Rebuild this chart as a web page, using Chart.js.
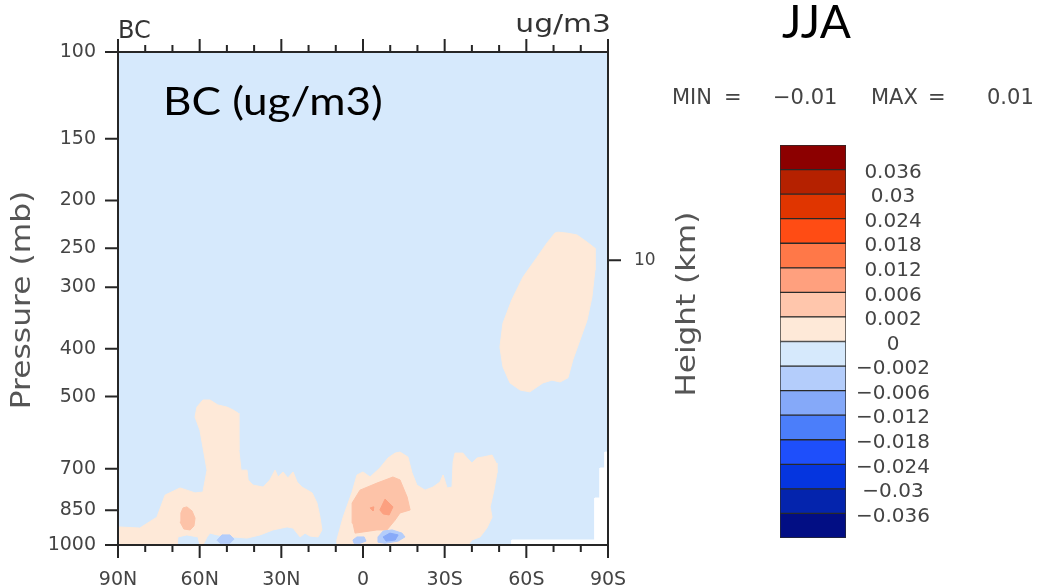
<!DOCTYPE html>
<html>
<head>
<meta charset="utf-8">
<script src="https://cdn.jsdelivr.net/npm/chart.js@4.4.0/dist/chart.umd.min.js"></script>
<style>
  html, body { margin: 0; padding: 0; background: #fff; }
  #wrap { position: relative; width: 1042px; height: 588px; }
  #main { position: absolute; left: 0; top: 0; }
  #bar { position: absolute; left: 760px; top: 120px; }
</style>
</head>
<body>
<div id="wrap">
  <canvas id="main" width="1042" height="588"></canvas>
  <canvas id="bar" width="200" height="440"></canvas>
</div>
<script>
// axes
const pressureTicks = [100, 150, 200, 250, 300, 400, 500, 700, 850, 1000];
const latTicks = [90, 60, 30, 0, -30, -60, -90];
const heightTickP = 264.4; // 10 km, standard atmosphere
const heightTickLabel = '10';

// colour levels, bottom to top of the colour bar
const levelLabels = ['\u22120.036', '\u22120.03', '\u22120.024', '\u22120.018', '\u22120.012', '\u22120.006', '\u22120.002',
  '0', '0.002', '0.006', '0.012', '0.018', '0.024', '0.03', '0.036'];
const levelColors = ['#020e84', '#0424ad', '#0535df', '#1e4ffb', '#4b7efa', '#85a9f9', '#b4cdfb',
  '#d6e9fc', '#fee9d8', '#ffc6ac', '#ffa07e', '#ff7848', '#ff4c14', '#e03500', '#b52100', '#8c0000'];

// contour regions as [latitude (N > 0), pressure mb]
const peachNorth = [[90,919],[82,924],[75.7,878],[72.7,792],[67.2,766],[64.7,774],[61.7,784],[58.8,781],[57.3,705],
  [59.9,585],[61.7,550],[61.0,525],[58.8,508],[56.2,508],[53.3,520],[50.0,525],[47.8,532],[45.9,540],[45.6,642],
  [44.8,705],[42.6,705],[42.2,738],[40.4,756],[36.7,763],[34.2,738],[32.3,705],[31.2,728],[29.4,711],[27.6,731],
  [25.7,711],[24.2,745],[22.4,763],[18.7,784],[16.9,822],[15.8,878],[15.1,932],[16.5,963],[19.5,959],[21.3,946],
  [23.1,963],[25.7,924],[27.9,919],[33.1,932],[37.8,954],[42.6,968],[47.8,963],[53.6,954],[56.2,946],[57.3,963],
  [58.8,1000],[59.9,1000],[60.6,963],[64.7,954],[68.0,963],[68.3,1000],[90,1000]];
const peachTropics = [[9.6,1000],[9.6,977],[7.3,878],[4.0,781],[2.2,721],[0.0,711],[-2.6,728],[-6.2,698],[-9.2,666],
  [-11.8,651],[-13.6,648],[-16.5,663],[-18.0,714],[-19.8,756],[-22.8,774],[-25.7,763],[-28.3,745],[-29.4,721],
  [-30.9,766],[-32.7,763],[-33.1,679],[-33.8,651],[-36.7,651],[-38.2,666],[-40.0,682],[-41.9,666],[-44.1,663],
  [-47.4,657],[-48.9,682],[-49.2,714],[-48.1,774],[-46.7,837],[-47.4,878],[-45.5,924],[-43.0,963],[-40.0,977],[-38.6,1000]];
const peachSouth = [[-71.6,232],[-74.9,233],[-78.6,235],[-82.3,243],[-85.2,250],[-85.2,277],[-84.1,314],[-82.3,350],
  [-79.7,384],[-77.1,421],[-75.3,458],[-72.4,467],[-69.4,463],[-66.1,469],[-61.3,489],[-57.7,485],[-54.0,469],
  [-51.4,435],[-50.3,397],[-51.4,355],[-54.7,318],[-58.8,286],[-63.9,261],[-67.6,244],[-70.5,233]];
const salmonNorth = [[64.7,837],[62.8,853],[61.7,882],[62.1,915],[63.5,932],[65.8,928],[67.2,898],[66.9,861],[66.1,841]];
const salmonTropics = [[3.7,903],[4.0,822],[1.1,774],[-5.1,749],[-11.0,728],[-13.6,738],[-16.2,799],[-17.3,849],
  [-13.6,861],[-11.8,890],[-8.8,932],[-5.1,932],[0.0,941],[2.9,946]];
const orangeTropics = [[-6.2,849],[-8.1,807],[-11.0,837],[-9.6,869],[-7.4,865]];
const orangeDot = [[-2.6,841],[-4.0,837],[-3.7,853]];
const blueNorth = [[53.6,978],[51.8,954],[48.9,954],[47.4,973],[48.9,992],[52.5,992]];
const blueEquator = [[3.7,977],[2.2,963],[-0.4,963],[-1.1,982],[1.1,992],[3.3,992]];
const blueSouth = [[-5.5,963],[-7.4,937],[-10.7,932],[-14.3,946],[-15.4,963],[-12.9,982],[-8.1,992],[-5.5,987]];
const blueSouthCore = [[-7.4,963],[-9.9,946],[-12.9,954],[-11.8,977],[-8.5,982]];
const missing = [[-90,648],[-88.9,648],[-88.9,698],[-87.1,698],[-87.1,803],[-85.2,803],[-85.2,977],[-54.7,977],
  [-54.7,1000],[-90,1000]];

const plotBg = '#d6e9fc';
const nclFont = '"DejaVu Sans", sans-serif';

function region(points, color, order) {
  const data = points.map(p => ({ x: p[0], y: p[1] }));
  data.push({ x: points[0][0], y: points[0][1] });
  return {
    data: data,
    order: order,
    showLine: true,
    fill: 'shape',
    backgroundColor: color,
    borderColor: color,
    borderWidth: 1,
    pointRadius: 0,
    yAxisID: 'y'
  };
}

function text(ctx, str, x, y, font, color, align, sx) {
  ctx.save();
  ctx.font = font;
  ctx.fillStyle = color;
  ctx.textAlign = align || 'left';
  ctx.textBaseline = 'alphabetic';
  ctx.translate(x, y);
  ctx.scale(sx || 1, 1);
  ctx.fillText(str, 0, 0);
  ctx.restore();
}

const nclFrame = {
  id: 'nclFrame',
  beforeDraw(chart) {
    const { ctx, chartArea: a } = chart;
    ctx.save();
    ctx.fillStyle = plotBg;
    ctx.fillRect(a.left, a.top, a.right - a.left, a.bottom - a.top);
    ctx.restore();
  },
  afterDraw(chart) {
    const { ctx, chartArea: a, scales } = chart;
    ctx.save();
    ctx.strokeStyle = '#262626';
    ctx.lineWidth = 2;
    ctx.strokeRect(a.left, a.top, a.right - a.left, a.bottom - a.top);
    ctx.beginPath();
    for (let lat = -90; lat <= 90; lat += 10) {
      const px = scales.x.getPixelForValue(lat);
      const len = lat % 30 === 0 ? 13 : 7;
      ctx.moveTo(px, a.bottom);
      ctx.lineTo(px, a.bottom + len);
      ctx.moveTo(px, a.top);
      ctx.lineTo(px, a.top - len);
    }
    pressureTicks.forEach(p => {
      const py = scales.y.getPixelForValue(p);
      ctx.moveTo(a.left - 13, py);
      ctx.lineTo(a.left, py);
    });
    const hy = scales.y2.getPixelForValue(heightTickP);
    ctx.moveTo(a.right, hy);
    ctx.lineTo(a.right + 13, hy);
    ctx.stroke();
    ctx.restore();

    // NCL labels
    text(ctx, 'BC', a.left, 38, '24px ' + nclFont, '#333');
    text(ctx, 'ug/m3', a.right + 3, 32, '24px ' + nclFont, '#333', 'right', 1.24);
    text(ctx, 'MIN', 672, 104, '21px ' + nclFont, '#444');
    text(ctx, '=', 724, 104, '21px ' + nclFont, '#444');
    text(ctx, '\u22120.01', 773, 104, '21px ' + nclFont, '#444');
    text(ctx, 'MAX', 871, 104, '21px ' + nclFont, '#444');
    text(ctx, '=', 928, 104, '21px ' + nclFont, '#444');
    text(ctx, '0.01', 987, 104, '21px ' + nclFont, '#444');

    ctx.save();
    ctx.translate(695, 304);
    ctx.rotate(-Math.PI / 2);
    text(ctx, 'Height (km)', 0, 0, '27px ' + nclFont, '#555', 'center', 1.15);
    ctx.restore();
    ctx.save();
    ctx.translate(30, 300);
    ctx.rotate(-Math.PI / 2);
    text(ctx, 'Pressure (mb)', 0, 0, '27px ' + nclFont, '#555', 'center', 1.16);
    ctx.restore();

    // slide annotations
    text(ctx, 'JJA', 782, 38, '46px Lato, "Open Sans", sans-serif', '#000');
    text(ctx, 'BC (ug/m3)', 163, 115, '38px Lato, "Open Sans", sans-serif', '#000', 'left', 1.16);
  }
};

const tickFont = { family: nclFont, size: 19 };

new Chart(document.getElementById('main'), {
  type: 'line',
  data: {
    datasets: [
      region(blueSouthCore, '#88aaf9', 1),
      region(blueSouth, '#b4cdfb', 2),
      region(blueEquator, '#b4cdfb', 2),
      region(blueNorth, '#b4cdfb', 2),
      region(orangeDot, '#fca080', 3),
      region(orangeTropics, '#fca080', 3),
      region(salmonTropics, '#fdc3a8', 4),
      region(salmonNorth, '#fdc3a8', 4),
      region(missing, '#ffffff', 5),
      region(peachSouth, '#fee9d8', 6),
      region(peachTropics, '#fee9d8', 6),
      region(peachNorth, '#fee9d8', 6)
    ]
  },
  options: {
    responsive: false,
    devicePixelRatio: 1,
    animation: false,
    layout: { padding: { top: 52, right: 374, bottom: 0, left: 0 } },
    plugins: { legend: { display: false }, tooltip: { enabled: false } },
    scales: {
      x: {
        type: 'linear',
        min: -90,
        max: 90,
        reverse: true,
        afterBuildTicks: s => { s.ticks = latTicks.map(v => ({ value: v })); },
        afterFit: s => { s.height = 43; },
        ticks: {
          font: tickFont,
          color: '#444',
          padding: 24,
          maxRotation: 0,
          callback: v => v > 0 ? v + 'N' : (v < 0 ? (-v) + 'S' : '0')
        },
        grid: { display: false, drawTicks: false },
        border: { display: false }
      },
      y: {
        type: 'logarithmic',
        position: 'left',
        min: 100,
        max: 1000,
        reverse: true,
        afterBuildTicks: s => { s.ticks = pressureTicks.map(v => ({ value: v })); },
        afterFit: s => { s.width = 118; },
        ticks: { font: tickFont, color: '#444', padding: 22, callback: v => String(v) },
        grid: { display: false, drawTicks: false },
        border: { display: false }
      },
      y2: {
        type: 'logarithmic',
        position: 'right',
        min: 100,
        max: 1000,
        reverse: true,
        afterBuildTicks: s => { s.ticks = [{ value: heightTickP }]; },
        afterFit: s => { s.width = 60; },
        ticks: { font: { family: nclFont, size: 17 }, color: '#444', padding: 26, callback: () => heightTickLabel },
        grid: { display: false, drawTicks: false },
        border: { display: false }
      }
    }
  },
  plugins: [nclFrame]
});

// colour bar
new Chart(document.getElementById('bar'), {
  type: 'bar',
  data: {
    labels: [''],
    datasets: levelColors.map(c => ({
      data: [1],
      backgroundColor: c,
      borderColor: '#2a2a2a',
      borderWidth: 1,
      borderSkipped: false,
      barPercentage: 1,
      categoryPercentage: 1
    }))
  },
  options: {
    responsive: false,
    devicePixelRatio: 1,
    animation: false,
    layout: { padding: { top: 25, right: 0, bottom: 20, left: 20 } },
    plugins: { legend: { display: false }, tooltip: { enabled: false } },
    scales: {
      x: { stacked: true, display: false },
      y: {
        stacked: true,
        position: 'right',
        min: 0,
        max: levelColors.length,
        afterBuildTicks: s => { s.ticks = levelLabels.map((l, i) => ({ value: i + 1 })); },
        afterFit: s => { s.width = 114; },
        ticks: {
          font: { family: nclFont, size: 20 },
          color: '#444',
          crossAlign: 'center',
          padding: 10,
          labelOffset: 3,
          callback: v => levelLabels[v - 1]
        },
        grid: { display: false, drawTicks: false },
        border: { display: false }
      }
    }
  }
});
</script>
</body>
</html>
